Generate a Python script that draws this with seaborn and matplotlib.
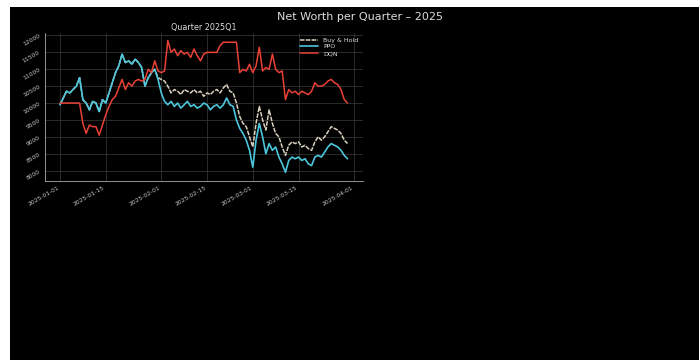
import pandas as pd
import numpy as np
import matplotlib
matplotlib.use("Agg")
import matplotlib.pyplot as plt
import matplotlib.dates as mdates
from matplotlib.patches import Rectangle
import seaborn as sns

# daily net worth, 2025-01-01 .. 2025-03-30
dates = pd.date_range("2025-01-01", periods=89, freq="D")

ppo = [9950, 10150, 10350, 10300, 10400, 10500, 10750, 10100, 10000, 9800,
       10050, 10000, 9750, 10100, 10000, 10300, 10600, 10900, 11100, 11450,
       11200, 11250, 11150, 11300, 11200, 11050, 10500, 10750, 10900, 11000,
       10700, 10300, 10050, 9950, 10050, 9900, 10000, 9850, 9950, 10050,
       9900, 9950, 9850, 9900, 10000, 9950, 9800, 9900, 9950, 9850,
       9950, 10150, 9950, 9900, 9500, 9250, 9100, 8900, 8600, 8100,
       8900, 9400, 9000, 8500, 8800, 8600, 8700, 8400, 8200, 7950,
       8300, 8400, 8350, 8400, 8300, 8350, 8200, 8150, 8400, 8450,
       8400, 8550, 8700, 8800, 8750, 8700, 8600, 8450, 8350]

buy_hold = [9950, 10150, 10350, 10300, 10400, 10500, 10750, 10100, 10000, 9800,
            10050, 10000, 9750, 10100, 10000, 10300, 10600, 10900, 11100, 11450,
            11200, 11250, 11150, 11300, 11200, 11050, 10500, 10750, 10900, 11000,
            10750, 10700, 10650, 10500, 10300, 10400, 10350, 10250, 10400, 10350,
            10300, 10400, 10300, 10350, 10200, 10300, 10250, 10350, 10400, 10300,
            10450, 10550, 10350, 10300, 10000, 9600, 9400, 9300, 9000, 8700,
            9400, 9900, 9500, 9200, 9800, 9400, 9100, 9000, 8700, 8450,
            8750, 8850, 8800, 8850, 8700, 8750, 8650, 8600, 8850, 9000,
            8900, 9000, 9150, 9300, 9250, 9200, 9100, 8900, 8800]

dqn = [10000, 10000, 10000, 10000, 10000, 10000, 10000, 9400, 9100, 9350,
       9300, 9300, 9050, 9350, 9650, 9900, 10100, 10200, 10450, 10700,
       10400, 10600, 10500, 10650, 10700, 10650, 10700, 11000, 10900, 11250,
       10950, 10900, 10950, 11850, 11500, 11600, 11400, 11550, 11450, 11500,
       11350, 11600, 11400, 11250, 11450, 11500, 11500, 11500, 11500, 11700,
       11800, 11800, 11800, 11800, 11800, 10900, 11000, 10950, 11150, 10900,
       11100, 11650, 10950, 11050, 11000, 11450, 11000, 10900, 10950, 10100,
       10400, 10300, 10350, 10250, 10350, 10300, 10250, 10350, 10600, 10500,
       10500, 10550, 10650, 10700, 10600, 10550, 10400, 10100, 10000]

df = pd.DataFrame({"date": dates, "Buy & Hold": buy_hold, "PPO": ppo, "DQN": dqn})

sns.set_theme(style="dark")
plt.rcParams['font.family'] = ['DejaVu Sans']

fig = plt.figure(figsize=(6.99, 3.6), dpi=100)
fig.patch.set_facecolor("white")
fig.patches.append(Rectangle((10 / 699, 0), 1, 353 / 360, transform=fig.transFigure,
                             facecolor="black", edgecolor="none", zorder=-10))

ax = fig.add_axes([0.0644, 0.497, 0.455, 0.411])
ax.set_facecolor("black")

sns.lineplot(data=df, x="date", y="Buy & Hold", ax=ax, color="#d9cfbd", lw=1.1,
             linestyle=(0, (3, 0.8)), label="Buy & Hold")
sns.lineplot(data=df, x="date", y="PPO", ax=ax, color="#4cc6dc", lw=1.2, label="PPO")
sns.lineplot(data=df, x="date", y="DQN", ax=ax, color="#ea4136", lw=1.1, label="DQN")

ax.set_xlim(pd.Timestamp("2024-12-27 10:00"), pd.Timestamp("2025-04-03 18:00"))
ax.set_ylim(7690, 12070)
ax.xaxis.set_major_locator(mdates.DayLocator(bymonthday=[1, 15]))
ax.xaxis.set_major_formatter(mdates.DateFormatter("%Y-%m-%d"))
ax.set_yticks([8000, 8500, 9000, 9500, 10000, 10500, 11000, 11500, 12000])

ax.set_xlabel("")
ax.set_ylabel("")
ax.grid(True, color="#333333", lw=0.6)
for s in ["top", "right"]:
    ax.spines[s].set_visible(False)
for s in ["left", "bottom"]:
    ax.spines[s].set_visible(True)
    ax.spines[s].set_color("#aaaaaa")
    ax.spines[s].set_linewidth(0.6)
ax.tick_params(axis="both", colors="#cccccc", labelsize=4.3, length=1.5, width=0.5, pad=1.5)
plt.setp(ax.get_xticklabels(), rotation=30, ha="right")
plt.setp(ax.get_yticklabels(), rotation=30)

ax.set_title("Quarter 2025Q1", color="#dddddd", fontsize=5.8, pad=2)
leg = ax.legend(loc="upper right", fontsize=4.5, frameon=False, labelcolor="#dddddd",
                handlelength=3, borderaxespad=0.3, labelspacing=0.2)

fig.text(0.515, 0.953, "Net Worth per Quarter – 2025", color="#dddddd", fontsize=8,
         ha="center", va="center")

fig.savefig("out.png", dpi=100, facecolor=fig.get_facecolor())
